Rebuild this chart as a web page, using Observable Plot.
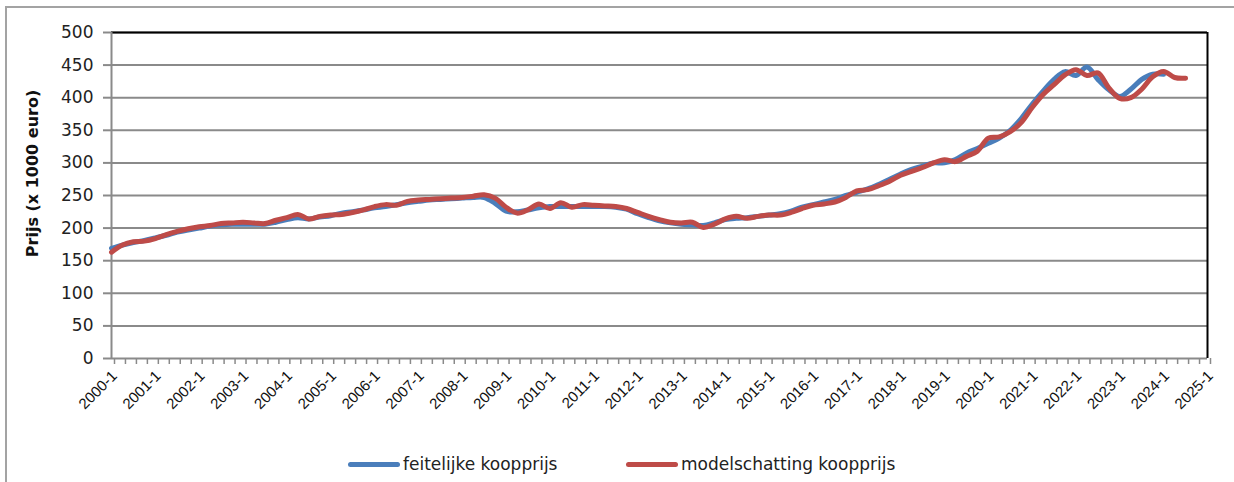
<!DOCTYPE html>
<html><head><meta charset="utf-8">
<script src="https://cdn.jsdelivr.net/npm/d3@7"></script>
<script src="https://cdn.jsdelivr.net/npm/@observablehq/plot@0.6"></script>
<style>
body{margin:0;background:#fff;font-family:"DejaVu Sans",sans-serif;}
#wrap{position:relative;width:1234px;height:482px;overflow:hidden;background:#fff;}
#border{position:absolute;left:5px;top:6px;width:1260px;height:520px;border:2px solid #a3a3a3;box-sizing:border-box;}
#chart{position:absolute;left:0;top:0;}
#legend{position:absolute;top:452px;left:0;width:1234px;height:24px;font-size:17px;color:#222;}
.item{position:absolute;top:0;height:24px;display:flex;align-items:center;white-space:nowrap;}
.sw{width:52px;height:5px;border-radius:3px;margin-right:3px;}
</style></head><body>
<div id="wrap"><div id="border"></div><div id="chart"></div>
<div id="legend">
<div class="item" style="left:348px"><span class="sw" style="background:#4a7ebb"></span><span>feitelijke koopprijs</span></div>
<div class="item" style="left:626px"><span class="sw" style="background:#be4b48"></span><span>modelschatting koopprijs</span></div>
</div></div>
<script>
// quarter categories 2000-1 .. 2025-1
const years = d3.range(2000, 2026);
const categories = [];
for (const y of years) for (const q of [1, 2, 3, 4]) { if (y < 2025 || q === 1) categories.push(`${y}-${q}`); }

const yTicks = [0, 50, 100, 150, 200, 250, 300, 350, 400, 450, 500];

const feitelijke = [
 169,174,178,181,185,189,194,197,200,203,
 205,206,206,206,206,209,213,216,214,217,
 219,223,225,228,231,233,236,239,241,243,
 244,245,246,247,247,238,226,225,228,231,
 233,233,233,233,233,233,232,229,222,216,
 211,208,206,205,204,208,213,215,216,218,
 220,222,226,232,236,240,244,250,255,260,
 267,275,283,290,295,300,300,305,315,322,
 330,338,350,368,390,410,428,440,434,447,
 428,412,402,413,428,436,436
];
const modelschatting = [
 163,174,179,180,184,190,195,199,202,204,
 207,208,209,208,207,212,216,221,214,218,
 220,221,224,228,233,236,235,241,243,244,
 245,246,247,249,251,246,232,223,228,237,
 230,239,232,236,235,234,233,230,224,218,
 213,209,208,209,201,206,214,218,215,218,
 220,220,224,230,235,237,240,247,257,259,
 265,272,281,287,293,300,305,302,310,318,
 338,340,348,362,385,405,420,435,443,434,
 438,415,399,400,413,432,440,431,430
];

const series = [
  {name: "feitelijke koopprijs", values: feitelijke, color: "#4a7ebb"},
  {name: "modelschatting koopprijs", values: modelschatting, color: "#be4b48"}
];
const rows = series.flatMap(s => s.values.map((v, i) => ({cat: categories[i], value: v, name: s.name})));

const chart = Plot.plot({
  width: 1234, height: 420,
  marginLeft: 111, marginRight: 27, marginTop: 32, marginBottom: 62,
  style: {fontFamily: "DejaVu Sans", fontSize: "17px", color: "#222", background: "transparent"},
  x: {type: "point", domain: categories, padding: 0},
  y: {domain: [0, 500]},
  color: {domain: series.map(s => s.name), range: series.map(s => s.color)},
  marks: [
    Plot.gridY(yTicks, {stroke: "#8a8a8a", strokeOpacity: 1, strokeWidth: 2}),
    Plot.ruleY([500], {stroke: "#000", strokeWidth: 2}),
    Plot.ruleX([categories[0]], {stroke: "#8a8a8a", strokeWidth: 2}),
    Plot.ruleX([categories[categories.length - 1]], {stroke: "#000", strokeWidth: 2}),
    Plot.axisY({ticks: yTicks, tickSize: 8, tickPadding: 10, stroke: "#8a8a8a", strokeWidth: 2, fill: "#222", fontSize: 17, label: null}),
    Plot.axisX({ticks: categories, tickFormat: d => d.endsWith("-1") ? d : "", tickRotate: -45, tickSize: 6, tickPadding: 9, dx: 3,
      stroke: "#8a8a8a", strokeWidth: 1.5, fill: "#111", fontSize: 15, fontFamily: "Liberation Sans", label: null}),
    Plot.line(rows, {x: "cat", y: "value", z: "name", stroke: "name", strokeWidth: 5, curve: "catmull-rom", strokeLinecap: "round", strokeLinejoin: "round"}),
    Plot.text(["Prijs (x 1000 euro)"], {frameAnchor: "left", textAnchor: "middle", dx: -79, dy: -22, rotate: -90, fontWeight: "bold", fontSize: 16, fill: "#111"})
  ]
});
document.getElementById("chart").appendChild(chart);
</script>
</body></html>
